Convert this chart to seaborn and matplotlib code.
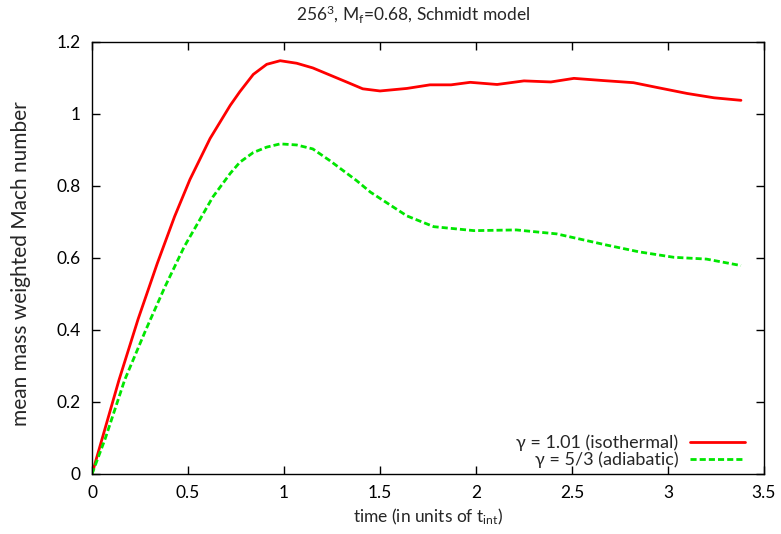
import numpy as np
import pandas as pd
import matplotlib
matplotlib.use("Agg")
import matplotlib.pyplot as plt
import seaborn as sns

# ---- data ----
t_iso = [0, 0.14, 0.24, 0.34, 0.43, 0.51, 0.615, 0.72, 0.77, 0.84, 0.91, 0.98,
         1.066, 1.15, 1.24, 1.33, 1.41, 1.50, 1.64, 1.76, 1.87, 1.97, 2.11,
         2.25, 2.39, 2.51, 2.66, 2.82, 2.94, 3.10, 3.24, 3.38]
m_iso = [0, 0.26, 0.43, 0.585, 0.715, 0.818, 0.932, 1.024, 1.062, 1.110, 1.138,
         1.148, 1.141, 1.128, 1.108, 1.088, 1.070, 1.064, 1.071, 1.081, 1.081,
         1.088, 1.082, 1.092, 1.089, 1.099, 1.093, 1.087, 1.074, 1.057, 1.045,
         1.038]
t_adi = [0, 0.07, 0.17, 0.28, 0.38, 0.48, 0.63, 0.72, 0.77, 0.84, 0.91, 0.98,
         1.066, 1.15, 1.24, 1.30, 1.378, 1.45, 1.64, 1.78, 1.99, 2.21, 2.42,
         2.68, 2.85, 3.03, 3.20, 3.38]
m_adi = [0, 0.10, 0.261, 0.40, 0.52, 0.631, 0.77, 0.835, 0.866, 0.893, 0.908,
         0.917, 0.914, 0.903, 0.870, 0.846, 0.815, 0.783, 0.717, 0.687, 0.676,
         0.678, 0.667, 0.636, 0.617, 0.602, 0.597, 0.579]
labels = ["\u03b3 = 1.01 (isothermal)", "\u03b3 = 5/3 (adiabatic)"]
x_ticks = [0, 0.5, 1, 1.5, 2, 2.5, 3, 3.5]
y_ticks = [0, 0.2, 0.4, 0.6, 0.8, 1, 1.2]
title = r"256$^3$, M$_\mathrm{f}$=0.68, Schmidt model"
xlabel = r"time (in units of t$_\mathrm{int}$)"
ylabel = "mean mass weighted Mach number"

df = pd.concat([
    pd.DataFrame({"t": t_iso, "M": m_iso, "run": labels[0]}),
    pd.DataFrame({"t": t_adi, "M": m_adi, "run": labels[1]}),
], ignore_index=True)

sns.set_style("ticks")
plt.rcParams["font.family"] = ["Lato", "DejaVu Sans"]
plt.rcParams["mathtext.fontset"] = "custom"
plt.rcParams["mathtext.rm"] = "Lato"
plt.rcParams["mathtext.it"] = "Lato:italic"
plt.rcParams["mathtext.bf"] = "Lato:bold"

W, H = 781, 534
fig = plt.figure(figsize=(W / 100, H / 100), dpi=100)
ax = fig.add_axes([92 / W, 1 - 474 / H, (764 - 92) / W, (474 - 42) / H])

sns.lineplot(data=df, x="t", y="M", hue="run", style="run",
             palette={labels[0]: "#ff0000", labels[1]: "#00e600"},
             dashes={labels[0]: "", labels[1]: (2.2, 1.1)},
             linewidth=2.0, ax=ax, sort=False, estimator=None)

ax.set_xlim(0, 3.5)
ax.set_ylim(0, 1.2)
ax.set_xticks(x_ticks)
ax.set_yticks(y_ticks)
ax.set_xticklabels([f"{v:g}" for v in x_ticks])
ax.set_yticklabels([f"{v:g}" for v in y_ticks])
ax.tick_params(direction="in", length=6, width=1, top=True, right=True,
               labelsize=12.5, colors="black", pad=8)
for s in ax.spines.values():
    s.set_visible(True)
    s.set_linewidth(1.0)
    s.set_color("black")

ax.set_xlabel(xlabel, fontsize=12.5, labelpad=4)
ax.set_ylabel(ylabel, fontsize=15)
ax.yaxis.set_label_coords((31 - 92) / 672, (474 - 264) / 432)
fig.text(413 / W, 1 - 20 / H, title, fontsize=12.5, ha="center", va="baseline")

leg = ax.legend(loc="lower right", frameon=False, markerfirst=False,
                fontsize=13, handlelength=3.05, handletextpad=0.65,
                labelspacing=0.0, borderaxespad=0, borderpad=0,
                bbox_to_anchor=((745 - 92) / 672, (474 - 468) / 432),
                title=None)
for h in leg.legend_handles:
    h.set_linewidth(2.0)
for txt in leg.get_texts():
    txt.set_ha("right")

fig.savefig("out.png", dpi=100)
